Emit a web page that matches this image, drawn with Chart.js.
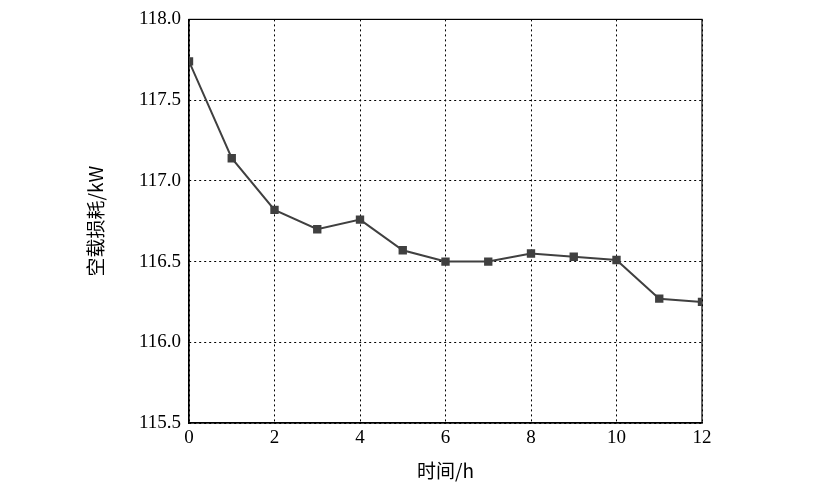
<!DOCTYPE html>
<html>
<head>
<meta charset="utf-8">
<script src="https://cdn.jsdelivr.net/npm/chart.js@4/dist/chart.umd.min.js"></script>
<style>
  body { margin: 0; background: #fff; }
  #wrap { width: 821px; height: 504px; }
</style>
</head>
<body>
<div id="wrap"><canvas id="c" width="821" height="504"></canvas></div>
<script>
// Hours and no-load loss values
const hours = [0, 1, 2, 3, 4, 5, 6, 7, 8, 9, 10, 11, 12];
const loss = [117.74, 117.14, 116.82, 116.70, 116.76, 116.57, 116.50, 116.50, 116.55, 116.53, 116.51, 116.27, 116.25];
const xTitle = '时间/h';
const yTitle = '空载损耗/kW';

const fontFam = '"Liberation Serif", "Noto Sans CJK SC", serif';
const titleFam = '"Noto Sans CJK SC", "Liberation Serif", serif';

new Chart(document.getElementById('c'), {
    type: 'line',
    data: {
        datasets: [{
            data: hours.map((h, i) => ({ x: h, y: loss[i] })),
            borderColor: '#404040',
            backgroundColor: '#404040',
            borderWidth: 2,
            pointStyle: 'rect',
            pointRadius: 4.5,
            tension: 0
        }]
    },
    options: {
        responsive: false,
        animation: false,
        layout: { padding: { top: 18, right: 119, bottom: 22, left: 84 } },
        plugins: { legend: { display: false }, tooltip: { enabled: false } },
        scales: {
            x: {
                type: 'linear', min: 0, max: 12,
                afterFit: s => { s.height = 59; },
                ticks: { stepSize: 2, color: '#000', font: { family: fontFam, size: 19 }, padding: 4 },
                grid: { color: '#000', lineWidth: 1, tickLength: 0 },
                border: { display: true, color: '#000', width: 1.2, dash: [2, 3] },
                title: { display: true, text: xTitle, color: '#000', font: { family: titleFam, size: 19 }, padding: 0 }
            },
            y: {
                min: 115.5, max: 118.0,
                afterFit: s => { s.width = 105; },
                ticks: { stepSize: 0.5, color: '#000', font: { family: fontFam, size: 19 }, padding: 8,
                    callback: v => v.toFixed(1) },
                grid: { color: '#000', lineWidth: 1, tickLength: 0 },
                border: { display: true, color: '#000', width: 1.2, dash: [2, 3] },
                title: { display: true, text: yTitle, color: '#000', font: { family: titleFam, size: 19 }, padding: 0 }
            }
        }
    },
    plugins: [{
        id: 'frame',
        beforeDatasetsDraw(chart) {
            const { ctx, chartArea: a } = chart;
            ctx.save();
            ctx.setLineDash([]);
            ctx.strokeStyle = '#000';
            ctx.lineWidth = 1.2;
            ctx.strokeRect(a.left, a.top, a.right - a.left, a.bottom - a.top);
            ctx.restore();
        }
    }]
});
</script>
</body>
</html>
